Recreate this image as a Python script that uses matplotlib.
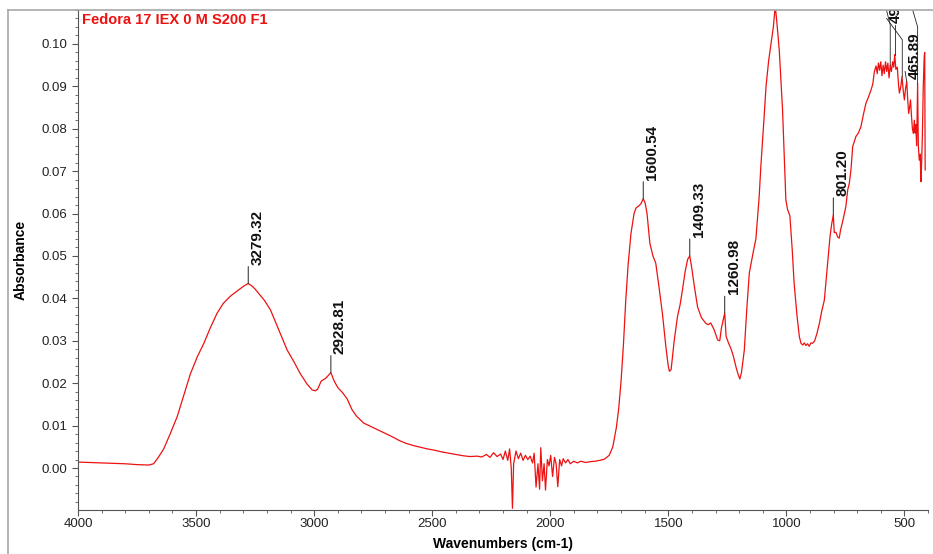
import numpy as np
import matplotlib
matplotlib.use('Agg')
import matplotlib.pyplot as plt
from matplotlib.lines import Line2D
from matplotlib.ticker import MultipleLocator

plt.rcParams['font.family'] = ['Liberation Sans', 'DejaVu Sans']

# spectrum (wavenumber cm-1, absorbance)
wavenumbers = [
    4000, 3950, 3900, 3850, 3800, 3750, 3700, 3680, 3660, 3637, 3610, 3580, 3550, 3524,
    3495, 3467, 3440, 3411, 3385, 3355, 3320, 3295, 3279, 3265, 3250, 3235, 3210, 3185,
    3150, 3114, 3085, 3058, 3030, 3008, 2995, 2985, 2970, 2950, 2929, 2915, 2900, 2880,
    2860, 2840, 2820, 2790, 2760, 2730, 2700, 2670, 2640, 2610, 2580, 2550, 2520, 2490,
    2460, 2430, 2400, 2370, 2340, 2310, 2290, 2270, 2255, 2240, 2225, 2210, 2200, 2190,
    2180, 2172, 2165, 2160, 2155, 2145, 2135, 2125, 2115, 2105, 2095, 2085, 2075, 2068,
    2060, 2052, 2045, 2040, 2033, 2026, 2020, 2012, 2005, 1998, 1990, 1982, 1975, 1968,
    1960, 1952, 1945, 1935, 1925, 1915, 1900, 1885, 1870, 1850, 1830, 1810, 1790, 1770,
    1750, 1735, 1720, 1710, 1700, 1690, 1680, 1670, 1658, 1645, 1637, 1625, 1616, 1606,
    1598, 1590, 1578, 1565, 1553, 1540, 1525, 1510, 1500, 1495, 1488, 1475, 1461, 1450,
    1440, 1428, 1418, 1409, 1400, 1390, 1376, 1360, 1341, 1330, 1320, 1305, 1291, 1282,
    1275, 1261, 1255, 1245, 1235, 1225, 1214, 1205, 1197, 1190, 1178, 1168, 1157, 1140,
    1129, 1115, 1108, 1095, 1086, 1075, 1065, 1055, 1047, 1040, 1030, 1016, 1002, 995,
    985, 975, 967, 955, 945, 938, 930, 924, 917, 910, 903, 896, 889, 880, 870, 860,
    850, 839, 825, 815, 808, 801, 797, 790, 783, 776, 770, 762, 748, 740, 733, 726,
    719, 712, 705, 695, 684, 673, 663, 652, 641, 634, 627, 620, 615, 610, 605, 600,
    595, 590, 585, 580, 575, 570, 565, 560, 555, 550, 545, 541, 536, 530, 525, 521,
    515, 510, 505, 500, 495, 490, 486, 482, 478, 474, 470, 466, 462, 458, 455, 452,
    448, 444, 441, 437, 433, 430, 427, 424, 420, 416, 414, 412,
]
absorbance = [
    0.0014, 0.0013, 0.0012, 0.0011, 0.0010, 0.0008, 0.0007, 0.0010, 0.0025, 0.0045, 0.0080, 0.0121, 0.0175, 0.0222,
    0.0262, 0.0294, 0.0330, 0.0365, 0.0388, 0.0405, 0.0420, 0.0430, 0.0435, 0.0430, 0.0422, 0.0412, 0.0395, 0.0373,
    0.0326, 0.0278, 0.0250, 0.0222, 0.0198, 0.0184, 0.0182, 0.0186, 0.0205, 0.0212, 0.0225, 0.0205, 0.0190, 0.0178,
    0.0163, 0.0138, 0.0122, 0.0106, 0.0098, 0.0090, 0.0082, 0.0074, 0.0065, 0.0058, 0.0053, 0.0049, 0.0045, 0.0042,
    0.0038, 0.0035, 0.0032, 0.0029, 0.0027, 0.0028, 0.0026, 0.0032, 0.0025, 0.0036, 0.0027, 0.0033, 0.0020, 0.0040,
    0.0018, 0.0045, 0.0000, -0.0095, 0.0010, 0.0040, 0.0022, 0.0035, 0.0018, 0.0030, 0.0020, 0.0028, 0.0012, 0.0035,
    -0.0045, 0.0010, -0.0050, 0.0048, -0.0030, 0.0010, -0.0052, 0.0020, 0.0005, 0.0030, -0.0020, 0.0025, 0.0010, -0.0044,
    0.0020, 0.0005, 0.0022, 0.0012, 0.0020, 0.0010, 0.0016, 0.0012, 0.0016, 0.0013, 0.0015, 0.0016, 0.0018, 0.0021,
    0.0030, 0.0050, 0.0095, 0.0140, 0.0205, 0.0290, 0.0396, 0.0480, 0.0553, 0.0600, 0.0613, 0.0618, 0.0623, 0.0635,
    0.0625, 0.0600, 0.0530, 0.0500, 0.0483, 0.0430, 0.0365, 0.0285, 0.0240, 0.0228, 0.0232, 0.0300, 0.0357, 0.0385,
    0.0420, 0.0465, 0.0492, 0.0500, 0.0470, 0.0430, 0.0380, 0.0355, 0.0341, 0.0338, 0.0342, 0.0325, 0.0302, 0.0300,
    0.0330, 0.0365, 0.0310, 0.0295, 0.0282, 0.0265, 0.0240, 0.0222, 0.0210, 0.0225, 0.0278, 0.0370, 0.0459, 0.0510,
    0.0540, 0.0640, 0.0711, 0.0820, 0.0900, 0.0960, 0.1000, 0.1040, 0.1090, 0.1050, 0.0986, 0.0844, 0.0632, 0.0610,
    0.0595, 0.0514, 0.0436, 0.0360, 0.0310, 0.0294, 0.0290, 0.0295, 0.0289, 0.0293, 0.0287, 0.0295, 0.0294, 0.0300,
    0.0318, 0.0341, 0.0370, 0.0396, 0.0483, 0.0546, 0.0575, 0.0597, 0.0555, 0.0556, 0.0545, 0.0542, 0.0562, 0.0580,
    0.0616, 0.0656, 0.0672, 0.0705, 0.0758, 0.0770, 0.0782, 0.0790, 0.0805, 0.0835, 0.0860, 0.0875, 0.0892, 0.0905,
    0.0935, 0.0948, 0.0930, 0.0955, 0.0938, 0.0958, 0.0925, 0.0950, 0.0930, 0.0958, 0.0935, 0.0955, 0.0920, 0.0950,
    0.0935, 0.0958, 0.0945, 0.0975, 0.0940, 0.0945, 0.0905, 0.0884, 0.0900, 0.0923, 0.0890, 0.0868, 0.0895, 0.0911,
    0.0870, 0.0836, 0.0850, 0.0868, 0.0830, 0.0800, 0.0789, 0.0820, 0.0790, 0.0810, 0.0760, 0.0907, 0.0760, 0.0726,
    0.0740, 0.0675, 0.0720, 0.0780, 0.0900, 0.0970, 0.0980, 0.0703,
]

peak_labels = ['3279.32', '2928.81', '1600.54', '1409.33', '1260.98', '801.20']
peak_x = [3279, 2929, 1606, 1409, 1261, 801]
peak_y = [0.0435, 0.0225, 0.0635, 0.0500, 0.0365, 0.0597]

title = 'Fedora 17 IEX 0 M S200 F1'

fig = plt.figure(figsize=(9.33, 5.54), dpi=100)
ax = fig.add_axes([78 / 933, 1 - 510 / 554, 850 / 933, 500 / 554])

ax.plot(wavenumbers, absorbance, color='#ee1111', lw=0.9)

ax.set_xlim(4000, 400)
ax.set_ylim(-0.0099, 0.108)
ax.xaxis.set_major_locator(MultipleLocator(500))
ax.xaxis.set_minor_locator(MultipleLocator(100))
ax.yaxis.set_minor_locator(MultipleLocator(0.002))
ax.set_yticks([t / 100 for t in range(0, 11)])
ax.yaxis.set_major_formatter(matplotlib.ticker.FormatStrFormatter('%.2f'))

for s in ['top', 'right']:
    ax.spines[s].set_visible(False)
for s in ['left', 'bottom']:
    ax.spines[s].set_color('#555555')
    ax.spines[s].set_linewidth(0.8)
ax.tick_params(which='major', length=4, width=0.8, color='#555555', labelsize=9.5, labelcolor='#222222')
ax.tick_params(which='minor', length=2.5, width=0.6, color='#555555')
ax.tick_params(axis='x', pad=2)

ax.set_xlabel('Wavenumbers (cm-1)', fontsize=10, fontweight='bold', labelpad=5)
ax.set_ylabel('Absorbance', fontsize=10, fontweight='bold', labelpad=10)

ax.text(0.005, 0.993, title, transform=ax.transAxes, color='#ee1111', fontsize=10.5,
        fontweight='bold', va='top', ha='left')

for lab, x, y in zip(peak_labels, peak_x, peak_y):
    ax.annotate('', xy=(x, y), xytext=(0, 17), textcoords='offset pixels',
                arrowprops=dict(arrowstyle='-', color='#222222', lw=0.7, shrinkA=0, shrinkB=0))
    ax.annotate(lab, xy=(x, y), xytext=(2, 19), textcoords='offset pixels', rotation=90,
                ha='left', va='bottom', fontsize=11, fontweight='bold', color='#111111')

# crowded labels at the top right, mostly cut off by the frame
ink = dict(color='#222222', lw=0.6)
ax.plot([560, 560, 585], [0.0950, 0.1045, 0.1100], **ink)
ax.plot([541, 541], [0.0975, 0.1045], **ink)
ax.text(536, 0.1050, '494.31', rotation=90, ha='center', va='bottom', fontsize=11,
        fontweight='bold', color='#111111', clip_on=True)
ax.plot([509, 509, 575], [0.0923, 0.1010, 0.1060], **ink)
ax.plot([444, 444, 470], [0.0907, 0.1040, 0.1090], **ink)
ax.plot([490, 497], [0.0911, 0.0935], **ink)
ax.text(457, 0.0918, '465.89', rotation=90, ha='center', va='bottom', fontsize=11,
        fontweight='bold', color='#111111')

# outer frame of the report
fig.add_artist(Line2D([8 / 933, 1], [1 - 9.5 / 554] * 2, color='#a8a8a8', lw=1.2))
fig.add_artist(Line2D([8 / 933] * 2, [0, 1 - 9.5 / 554], color='#a8a8a8', lw=1.2))

fig.savefig('out.png', dpi=100)
